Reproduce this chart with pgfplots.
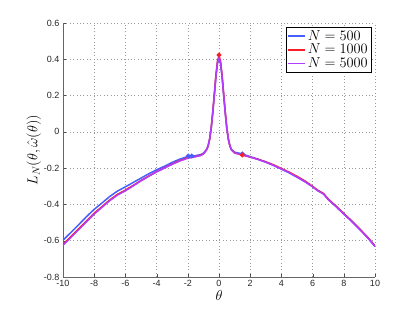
\documentclass[border=0pt]{standalone}
\usepackage{fontspec}
\setmainfont{Liberation Sans}
\usepackage{pgfplots}
\pgfplotsset{compat=1.18}
\definecolor{cblue}{RGB}{70,95,255}
\definecolor{cred}{RGB}{250,30,40}
\definecolor{cpurp}{RGB}{175,60,255}
\begin{document}
\begin{tikzpicture}[x=1pt,y=1pt]
\useasboundingbox (-63,-36) rectangle (352,277);
\begin{axis}[
  at={(0,0)}, anchor=south west,
  scale only axis, width=312pt, height=254pt,
  xmin=-10, xmax=10, ymin=-0.8, ymax=0.6,
  xtick={-10,-8,...,10}, ytick={-0.8,-0.6,...,0.6},
  axis lines*=left,
  axis line style={black!60, line width=0.8pt},
  tick align=inside, major tick length=3pt,
  tick style={black!70},
  grid=major, grid style={black!40, line width=0.5pt, dash pattern=on 0.8pt off 2.6pt},
  /pgf/number format/assume math mode=true,
  /pgf/number format/fixed,
  yticklabel style={/pgf/number format/precision=1},
  ticklabel style={font=\fontsize{9}{10}\selectfont, text=black!85},
  xlabel={$\theta$}, ylabel={$L_N(\theta,\hat{\omega}(\theta))$},
  label style={font=\fontsize{14}{15}\selectfont},
  xlabel style={yshift=3pt},
  ylabel style={yshift=-4pt},
  legend style={at={(0.987,0.984)}, anchor=north east, draw=black,
    font=\fontsize{13.5}{11}\selectfont, inner sep=1pt, row sep=-1.5pt, legend cell align=left},
  every axis plot/.append style={line width=1.5pt},
]
\addplot[color=cblue, no marks] coordinates {
(-10,-0.597)(-9.5,-0.555)(-9,-0.512)(-8.5,-0.468)(-8,-0.427)(-7.5,-0.392)(-7,-0.356)(-6.5,-0.326)(-6,-0.303)(-5.5,-0.279)(-5,-0.255)(-4.5,-0.231)(-4,-0.209)(-3.5,-0.19)(-3,-0.168)(-2.5,-0.15)(-2,-0.136)(-1.5,-0.131)(-1.2,-0.126)(-1.0,-0.118)(-0.8,-0.097)(-0.7,-0.077)(-0.6,-0.04)(-0.5,0.02)(-0.4,0.105)(-0.3,0.2)(-0.2,0.3)(-0.1,0.375)(0,0.405)(0.1,0.375)(0.2,0.3)(0.3,0.2)(0.4,0.105)(0.5,0.02)(0.6,-0.04)(0.7,-0.077)(0.8,-0.097)(1.0,-0.112)(1.5,-0.122)(2,-0.137)(2.5,-0.151)(3,-0.167)(3.5,-0.185)(4,-0.205)(4.5,-0.226)(5,-0.25)(5.5,-0.274)(6,-0.302)(6.3,-0.322)(6.7,-0.341)(7,-0.372)(7.5,-0.411)(8,-0.452)(8.5,-0.492)(9,-0.535)(9.5,-0.58)(10,-0.632)};
\addlegendentry{$N=500$}
\addplot[color=cred, no marks] coordinates {
(-10,-0.62)(-9.5,-0.578)(-9,-0.535)(-8.5,-0.491)(-8,-0.448)(-7.5,-0.412)(-7,-0.375)(-6.5,-0.344)(-6,-0.321)(-5.5,-0.295)(-5,-0.268)(-4.5,-0.243)(-4,-0.219)(-3.5,-0.198)(-3,-0.177)(-2.5,-0.158)(-2,-0.143)(-1.5,-0.136)(-1.2,-0.13)(-1.0,-0.121)(-0.8,-0.099)(-0.7,-0.078)(-0.6,-0.04)(-0.5,0.022)(-0.4,0.11)(-0.3,0.208)(-0.2,0.31)(-0.1,0.39)(0,0.42)(0.1,0.39)(0.2,0.31)(0.3,0.208)(0.4,0.11)(0.5,0.022)(0.6,-0.04)(0.7,-0.078)(0.8,-0.099)(1.0,-0.116)(1.5,-0.128)(2,-0.139)(2.5,-0.151)(3,-0.165)(3.5,-0.182)(4,-0.202)(4.5,-0.222)(5,-0.245)(5.5,-0.27)(6,-0.3)(6.3,-0.32)(6.7,-0.34)(7,-0.37)(7.5,-0.409)(8,-0.45)(8.5,-0.49)(9,-0.533)(9.5,-0.578)(10,-0.628)};
\addlegendentry{$N=1000$}
\addplot[color=cpurp, no marks] coordinates {
(-10,-0.625)(-9.5,-0.583)(-9,-0.54)(-8.5,-0.496)(-8,-0.453)(-7.5,-0.416)(-7,-0.379)(-6.5,-0.348)(-6,-0.325)(-5.5,-0.298)(-5,-0.27)(-4.5,-0.245)(-4,-0.221)(-3.5,-0.2)(-3,-0.179)(-2.5,-0.16)(-2,-0.145)(-1.5,-0.137)(-1.2,-0.131)(-1.0,-0.122)(-0.8,-0.1)(-0.7,-0.079)(-0.6,-0.041)(-0.5,0.021)(-0.4,0.107)(-0.3,0.204)(-0.2,0.305)(-0.1,0.382)(0,0.41)(0.1,0.382)(0.2,0.305)(0.3,0.204)(0.4,0.107)(0.5,0.021)(0.6,-0.041)(0.7,-0.079)(0.8,-0.1)(1.0,-0.116)(1.5,-0.127)(2,-0.139)(2.5,-0.152)(3,-0.167)(3.5,-0.185)(4,-0.205)(4.5,-0.225)(5,-0.249)(5.5,-0.274)(6,-0.303)(6.3,-0.323)(6.7,-0.343)(7,-0.373)(7.5,-0.412)(8,-0.453)(8.5,-0.493)(9,-0.536)(9.5,-0.581)(10,-0.631)};
\addlegendentry{$N=5000$}
\addplot[only marks, mark=*, mark size=1.6pt, color=cblue, forget plot] coordinates {(-1.97,-0.133)(-1.75,-0.133)(1.5,-0.122)};
\addplot[only marks, mark=*, mark size=1.6pt, color=cred, forget plot] coordinates {(0,0.424)(1.49,-0.128)};
\end{axis}
\end{tikzpicture}
\end{document}
